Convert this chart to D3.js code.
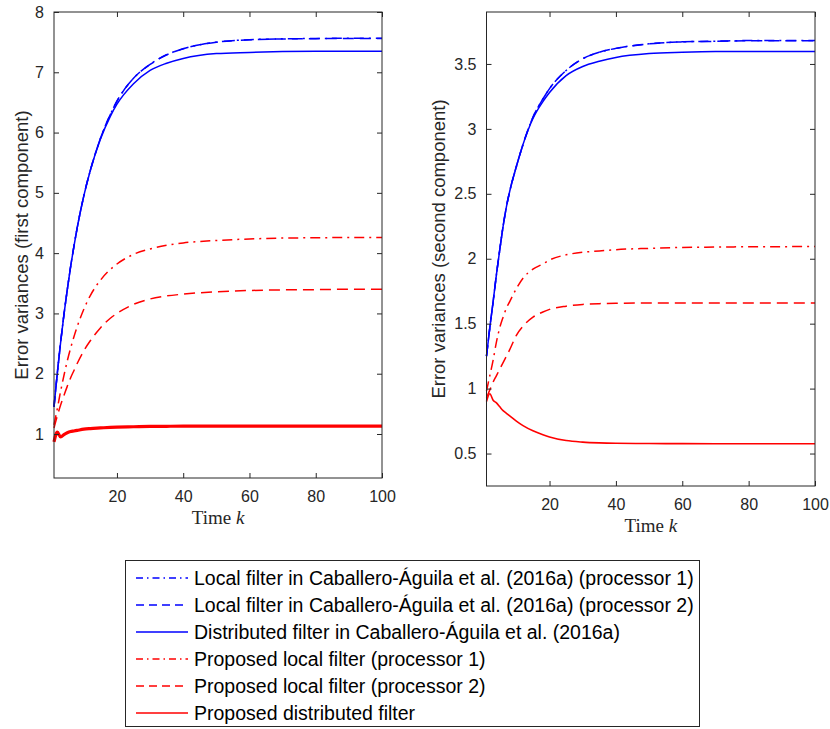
<!DOCTYPE html>
<html><head><meta charset="utf-8">
<script src="https://cdn.jsdelivr.net/npm/d3@7/dist/d3.min.js"></script>
<style>body{margin:0;background:#fff} svg{display:block}</style>
</head><body><svg id="c" width="830" height="729"></svg>
<script>
// ---- data ----
const kSteps = [1,2,3,4,5,6,7,8,10,12,15,18,20,25,30,35,40,50,60,70,80,90,100];
const xTicks = [20,40,60,80,100];
const leftYTicks = [1,2,3,4,5,6,7,8];
const rightYTicks = [0.5,1,1.5,2,2.5,3,3.5];

// first component
const c1CabLocalP1 = [1.45,2.01,2.52,2.98,3.39,3.77,4.11,4.42,4.95,5.38,5.90,6.30,6.52,6.90,7.13,7.29,7.39,7.50,7.54,7.555,7.56,7.565,7.565];
const c1CabLocalP2 = [1.45,2.01,2.52,2.98,3.39,3.77,4.11,4.42,4.95,5.38,5.90,6.30,6.52,6.90,7.13,7.29,7.39,7.50,7.54,7.553,7.558,7.56,7.56];
const c1CabDistr   = [1.45,2.01,2.52,2.98,3.39,3.77,4.11,4.42,4.95,5.38,5.89,6.27,6.47,6.81,7.03,7.15,7.23,7.31,7.33,7.345,7.35,7.35,7.35];
const c1PropLocalP1 = [1.15,1.42,1.71,1.97,2.21,2.42,2.61,2.78,3.07,3.30,3.55,3.73,3.82,3.98,4.07,4.13,4.17,4.21,4.235,4.25,4.255,4.26,4.26];
const c1PropLocalP2 = [1.10,1.30,1.48,1.64,1.79,1.93,2.05,2.17,2.38,2.55,2.76,2.92,3.00,3.15,3.24,3.29,3.32,3.36,3.38,3.39,3.395,3.40,3.40];
const c1PropDistr   = [0.87,1.03,0.95,0.99,1.02,1.04,1.05,1.06,1.08,1.09,1.10,1.11,1.115,1.12,1.125,1.128,1.13,1.13,1.13,1.13,1.13,1.13,1.13];

// second component
const c2CabLocalP1 = [1.25,1.47,1.67,1.88,2.07,2.25,2.40,2.52,2.71,2.88,3.09,3.23,3.31,3.45,3.54,3.59,3.62,3.655,3.67,3.675,3.68,3.68,3.68];
const c2CabLocalP2 = [1.25,1.47,1.67,1.88,2.07,2.25,2.40,2.52,2.71,2.88,3.09,3.23,3.31,3.45,3.54,3.59,3.62,3.655,3.67,3.674,3.678,3.678,3.678];
const c2CabDistr   = [1.25,1.47,1.67,1.88,2.07,2.25,2.40,2.52,2.71,2.88,3.08,3.21,3.28,3.41,3.48,3.52,3.55,3.58,3.59,3.595,3.595,3.595,3.595];
const c2PropLocalP1 = [0.98,1.10,1.22,1.36,1.47,1.55,1.62,1.67,1.77,1.85,1.92,1.96,1.99,2.03,2.05,2.06,2.07,2.08,2.087,2.09,2.092,2.093,2.094];
const c2PropLocalP2 = [0.93,0.99,1.05,1.10,1.15,1.20,1.25,1.30,1.41,1.48,1.55,1.59,1.61,1.635,1.648,1.654,1.657,1.659,1.66,1.66,1.66,1.66,1.66];
const c2PropDistr   = [0.90,0.96,0.91,0.89,0.86,0.83,0.81,0.79,0.75,0.715,0.675,0.645,0.628,0.60,0.588,0.582,0.579,0.577,0.576,0.575,0.575,0.575,0.575];

const seriesNames = [
  "Local filter in Caballero-Águila et al. (2016a) (processor 1)",
  "Local filter in Caballero-Águila et al. (2016a) (processor 2)",
  "Distributed filter in Caballero-Águila et al. (2016a)",
  "Proposed local filter (processor 1)",
  "Proposed local filter (processor 2)",
  "Proposed distributed filter"
];
const seriesColors = ["#0000ff","#0000ff","#0000ff","#ff0000","#ff0000","#ff0000"];
const plotDash = ["10,5,2,5","11,6",null,"10,5,2,5","11,6",null];
const legendDash = ["7,4,1.5,4","8,5",null,"7,4,1.5,4","8,5",null];

// ---- drawing ----
const svg = d3.select("#c");
const axisColor = "#262626";
const sans = "'Liberation Sans', Arial, Helvetica, sans-serif";

function panel(cfg){
  const x = d3.scaleLinear().domain([1,100]).range([cfg.x0,cfg.x1]);
  const y = d3.scaleLinear().domain(cfg.yDomain).range([cfg.y1,cfg.y0]);
  const g = svg.append("g");
  g.append("rect").attr("x",cfg.x0).attr("y",cfg.y0)
   .attr("width",cfg.x1-cfg.x0).attr("height",cfg.y1-cfg.y0).attr("fill","#fff");

  const line = d3.line().x((d,i)=>x(kSteps[i])).y(d=>y(d)).curve(d3.curveMonotoneX);
  cfg.series.forEach((s,i)=>{
    g.append("path").datum(s).attr("d",line).attr("fill","none")
     .attr("stroke",seriesColors[i]).attr("stroke-width",cfg.widths[i])
     .attr("stroke-dasharray",plotDash[i]).attr("stroke-linejoin","round");
  });

  const ax = [
    g.append("g").attr("transform",`translate(0,${cfg.y1})`)
      .call(d3.axisBottom(x).tickValues(xTicks).tickSize(-5).tickSizeOuter(0).tickPadding(13)),
    g.append("g").attr("transform",`translate(0,${cfg.y0})`)
      .call(d3.axisTop(x).tickValues(xTicks).tickSize(-5).tickSizeOuter(0).tickFormat("")),
    g.append("g").attr("transform",`translate(${cfg.x0},0)`)
      .call(d3.axisLeft(y).tickValues(cfg.yTicks).tickSize(-5).tickSizeOuter(0).tickPadding(10).tickFormat(d3.format("~g"))),
    g.append("g").attr("transform",`translate(${cfg.x1},0)`)
      .call(d3.axisRight(y).tickValues(cfg.yTicks).tickSize(-5).tickSizeOuter(0).tickFormat(""))
  ];
  ax.forEach(a=>{
    a.selectAll("path.domain").remove();
    a.selectAll("line").attr("stroke",axisColor);
    a.selectAll("text").attr("fill",axisColor).style("font-family",sans).style("font-size","16px");
  });
  g.append("rect").attr("x",cfg.x0).attr("y",cfg.y0)
   .attr("width",cfg.x1-cfg.x0).attr("height",cfg.y1-cfg.y0)
   .attr("fill","none").attr("stroke",axisColor).attr("stroke-width",1);

  const xl = g.append("text").attr("x",(cfg.x0+cfg.x1)/2).attr("y",cfg.y1+46)
    .attr("text-anchor","middle").attr("fill",axisColor)
    .style("font-family","'Liberation Serif','Times New Roman',serif").style("font-size","19px");
  xl.append("tspan").text("Time ");
  xl.append("tspan").style("font-style","italic").text("k");

  g.append("text").attr("transform",`translate(${cfg.ylx},${(cfg.y0+cfg.y1)/2}) rotate(-90)`)
    .attr("text-anchor","middle").attr("dy","0.35em").attr("fill",axisColor)
    .style("font-family",sans).style("font-size","18.5px").text(cfg.ylabel);
}

panel({x0:54,x1:382,y0:12,y1:478,yDomain:[0.27,8],yTicks:leftYTicks,ylx:22,
  ylabel:"Error variances (first component)",
  series:[c1CabLocalP1,c1CabLocalP2,c1CabDistr,c1PropLocalP1,c1PropLocalP2,c1PropDistr],
  widths:[1.5,1.5,1.5,1.5,1.5,3.2]});
panel({x0:486.5,x1:815,y0:12,y1:486,yDomain:[0.25,3.9],yTicks:rightYTicks,ylx:439,
  ylabel:"Error variances (second component)",
  series:[c2CabLocalP1,c2CabLocalP2,c2CabDistr,c2PropLocalP1,c2PropLocalP2,c2PropDistr],
  widths:[1.5,1.5,1.5,1.5,1.5,1.6]});

// legend
const lg = svg.append("g");
lg.append("rect").attr("x",125.5).attr("y",560.5).attr("width",574).attr("height",166)
  .attr("fill","#fff").attr("stroke",axisColor).attr("stroke-width",1);
const rowY = d3.scaleLinear().domain([0,5]).range([578,713]);
seriesNames.forEach((name,i)=>{
  lg.append("line").attr("x1",136).attr("x2",188).attr("y1",rowY(i)).attr("y2",rowY(i))
    .attr("stroke",seriesColors[i]).attr("stroke-width",1.3).attr("stroke-dasharray",legendDash[i]);
  lg.append("text").attr("x",194).attr("y",rowY(i)).attr("dy","0.36em")
    .attr("fill","#000").style("font-family",sans).style("font-size","19.5px").text(name);
});
</script></body></html>
